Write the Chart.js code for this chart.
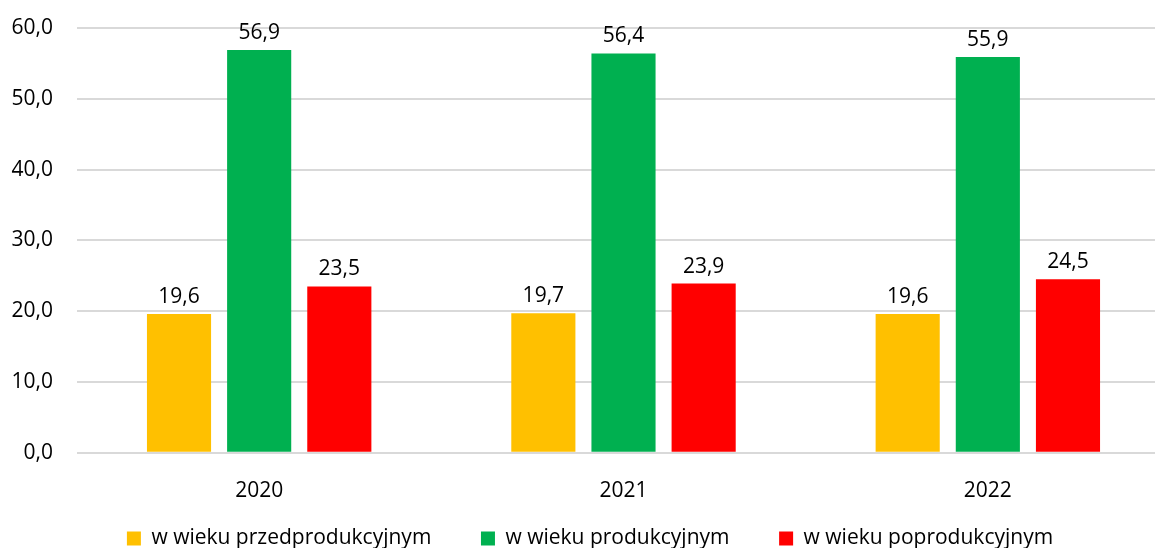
<!DOCTYPE html>
<html>
<head>
<meta charset="utf-8">
<script src="https://cdn.jsdelivr.net/npm/chart.js@4"></script>
<style>
  body { margin: 0; overflow: hidden; background: #fff; }
  #wrap { width: 1170px; height: 559px; }
</style>
</head>
<body>
<div id="wrap"><canvas id="wykres"></canvas></div>
<script>
// dane
const lata = ['2020', '2021', '2022'];
const przedprodukcyjny = [19.6, 19.7, 19.6];
const produkcyjny = [56.9, 56.4, 55.9];
const poprodukcyjny = [23.5, 23.9, 24.5];
const nazwySerii = ['w wieku przedprodukcyjnym', 'w wieku produkcyjnym', 'w wieku poprodukcyjnym'];
const kolory = ['#FFC000', '#00B050', '#FF0000'];

const czcionka = "'Open Sans', sans-serif";
const rozmiar = 21;

function liczba(v) {
    return v.toFixed(1).replace('.', ',');
}

// etykiety nad słupkami
const etykiety = {
    id: 'etykiety',
    afterDatasetsDraw(chart) {
        const c = chart.ctx;
        c.save();
        c.font = rozmiar + 'px ' + czcionka;
        c.fillStyle = '#000';
        c.textAlign = 'center';
        c.textBaseline = 'alphabetic';
        chart.data.datasets.forEach((ds, i) => {
            chart.getDatasetMeta(i).data.forEach((bar, j) => {
                c.fillText(liczba(ds.data[j]), bar.x, bar.y - 11);
            });
        });
        c.restore();
    }
};

let ctx = document.getElementById('wykres').getContext('2d');
let wykres = new Chart(ctx, {
    type: 'bar',
    data: {
        labels: lata,
        datasets: [
            { label: nazwySerii[0], data: przedprodukcyjny, backgroundColor: kolory[0] },
            { label: nazwySerii[1], data: produkcyjny, backgroundColor: kolory[1] },
            { label: nazwySerii[2], data: poprodukcyjny, backgroundColor: kolory[2] }
        ]
    },
    options: {
        responsive: true,
        maintainAspectRatio: false,
        animation: false,
        layout: { padding: { top: 28, left: 10, right: 0, bottom: 0 } },
        datasets: {
            bar: { categoryPercentage: 0.66, barPercentage: 0.8 }
        },
        scales: {
            x: {
                grid: { display: false },
                border: { display: false },
                ticks: { color: '#000', font: { family: czcionka, size: rozmiar }, padding: 18 }
            },
            y: {
                min: 0,
                max: 60,
                afterFit: s => {
                    s.width = 67;
                    s.paddingTop = 0;
                    s.paddingBottom = 0;
                },
                ticks: {
                    stepSize: 10,
                    color: '#000',
                    padding: 24,
                    font: { family: czcionka, size: rozmiar },
                    callback: v => liczba(v)
                },
                grid: { color: '#D9D9D9', lineWidth: 2, drawTicks: false },
                border: { display: false }
            }
        },
        plugins: {
            legend: {
                position: 'bottom',
                labels: {
                    color: '#000',
                    boxWidth: 14,
                    boxHeight: 14,
                    padding: 6,
                    font: { family: czcionka, size: rozmiar },
                    generateLabels(chart) {
                        const items = Chart.defaults.plugins.legend.labels.generateLabels(chart);
                        // dodatkowy odstęp między pozycjami legendy
                        items.forEach((it, i) => {
                            if (i < items.length - 1) it.text = it.text + '        ';
                        });
                        return items;
                    }
                }
            },
            tooltip: { enabled: false }
        }
    },
    plugins: [etykiety]
});
</script>
</body>
</html>
